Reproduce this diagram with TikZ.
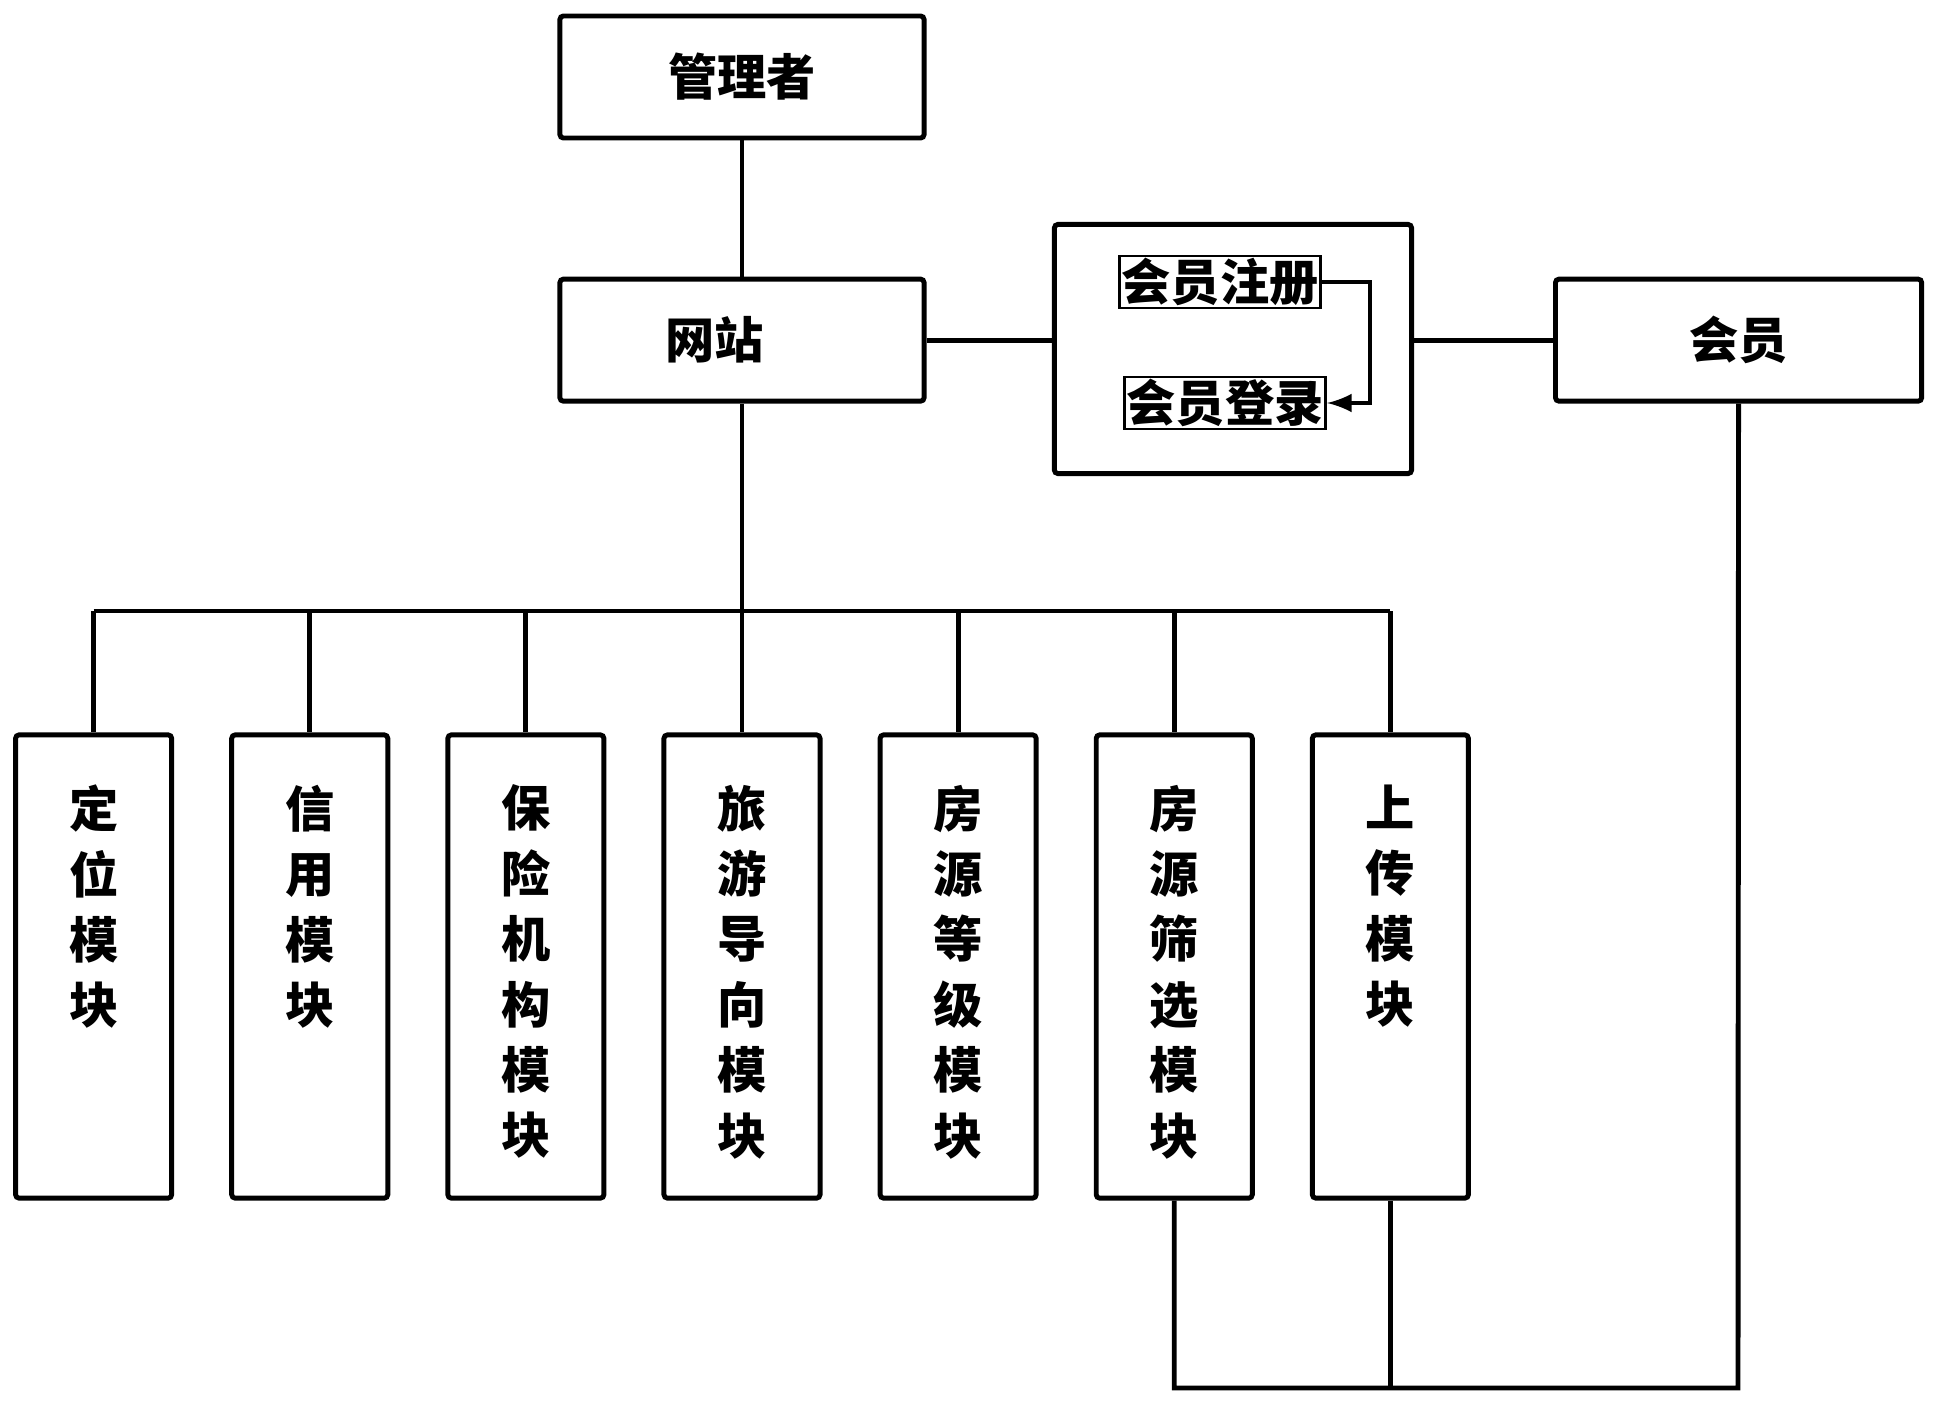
\documentclass[tikz,border=0pt]{standalone}
\usepackage{fontspec}
\usetikzlibrary{positioning}
\newfontfamily\cjk{Noto Sans CJK SC}
\newcommand{\colstack}[1]{\parbox[c][4.63cm][t]{1.5cm}{\centering\vspace*{0.5cm}#1}}

\begin{document}
\begin{tikzpicture}[x=0.01cm, y=-0.01cm, line width=1.4pt,
node distance=2.16cm, on grid,
font=\cjk\bfseries\fontsize{14}{18.6}\selectfont,
box/.style={draw, rounded corners=1pt, minimum width=3.64cm,
minimum height=1.22cm, inner sep=0pt},
module/.style={draw, rounded corners=1pt, minimum width=1.56cm,
minimum height=4.63cm, inner sep=0pt},
tag/.style={draw, line width=0.8pt, inner sep=0.6pt}]
\useasboundingbox (0,0) rectangle (1938,1406);
\node[box] (admin) at (742,77) {管理者};
\node[box] (site) [below=2.63cm of admin] {网站\kern0.54cm};
\node[box, minimum width=3.66cm] (member) [right=9.96cm of site] {会员};
\node[box, minimum width=3.57cm, minimum height=2.49cm] (panel) at (1233,349) {};
\node[tag] (reg) at (1220,282) {会员注册};
\node[tag] (login) at (1225,403) {会员登录};
\coordinate (turn) at (1370,340);
% modules
\node[module] (m4) [below=6.26cm of site] {\colstack{旅\\游\\导\\向\\模\\块}};
\node[module] (m3) [left=of m4] {\colstack{保\\险\\机\\构\\模\\块}};
\node[module] (m2) [left=of m3] {\colstack{信\\用\\模\\块}};
\node[module] (m1) [left=of m2] {\colstack{定\\位\\模\\块}};
\node[module] (m5) [right=of m4] {\colstack{房\\源\\等\\级\\模\\块}};
\node[module] (m6) [right=of m5] {\colstack{房\\源\\筛\\选\\模\\块}};
\node[module] (m7) [right=of m6] {\colstack{上\\传\\模\\块}};
\coordinate (bus) at (742,611);
\coordinate (base) at (1738,1388);
% links
\draw (admin) -- (site);
\draw (site.east) -- (site.east -| panel.west);
\draw (panel.east |- member.west) -- (member.west);
\draw[-latex] (reg.east) -| (turn) |- (login.east);
\draw (site) -- (bus);
\draw (bus -| m1.north) -- (bus -| m7.north);
\foreach \i in {1,...,7}
\draw (bus -| m\i.north) -- (m\i.north);
\draw (m6) -- (m6.south |- base) -- (base) -- (member);
\draw (m7) -- (m7.south |- base);
\end{tikzpicture}
\end{document}
